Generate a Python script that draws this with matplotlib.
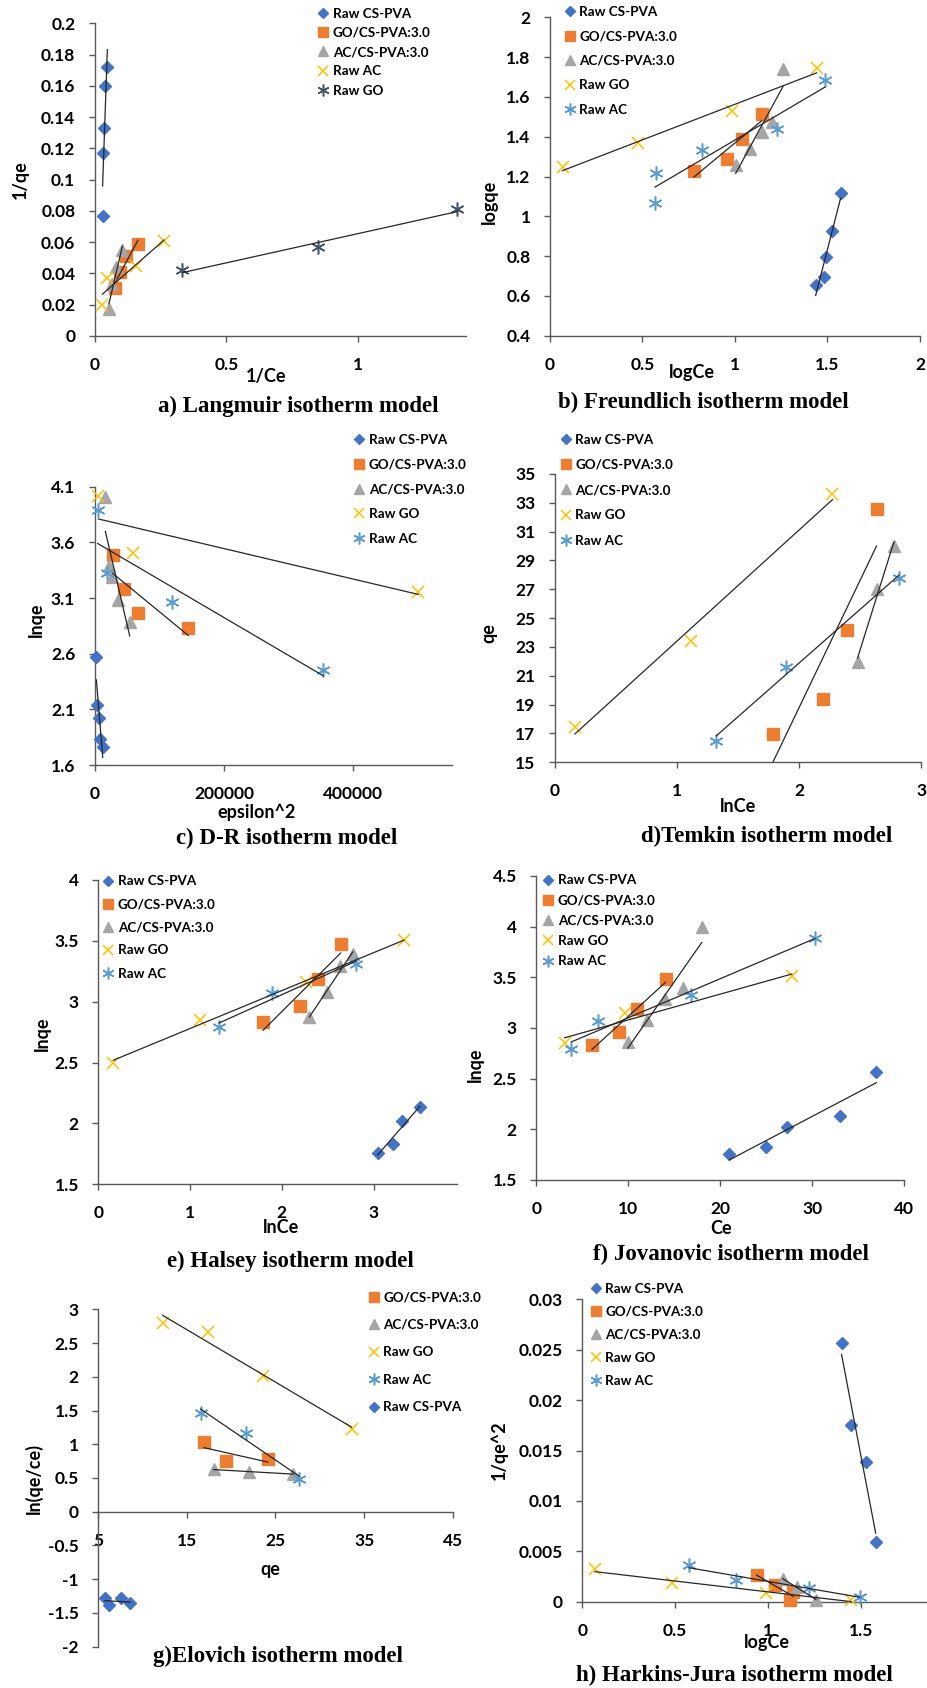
import numpy as np
import matplotlib.pyplot as plt
from matplotlib.ticker import FuncFormatter

plt.rcParams['font.family'] = ['Lato', 'DejaVu Sans']
plt.rcParams['font.weight'] = 'bold'

# ---------------- data ----------------
# a) Langmuir: 1/Ce vs 1/qe
lang_cs = ([0.048, 0.040, 0.037, 0.032, 0.030], [0.172, 0.160, 0.133, 0.117, 0.077])
lang_go_cs = ([0.164, 0.117, 0.096, 0.078], [0.059, 0.051, 0.041, 0.031])
lang_ac_cs = ([0.105, 0.082, 0.067, 0.054], [0.055, 0.044, 0.033, 0.017])
lang_raw_ac = ([0.263, 0.155, 0.048, 0.029], [0.061, 0.045, 0.037, 0.020])
lang_raw_go = ([0.333, 0.848, 1.376], [0.042, 0.057, 0.081])

# b) Freundlich: logCe vs logqe
fr_cs = ([1.571, 1.523, 1.494, 1.481, 1.436], [1.115, 0.928, 0.797, 0.695, 0.655])
fr_go_cs = ([1.144, 1.040, 0.955, 0.778], [1.512, 1.387, 1.286, 1.226])
fr_ac_cs = ([1.259, 1.202, 1.148, 1.081, 1.004], [1.738, 1.474, 1.423, 1.340, 1.256])
fr_raw_go = ([1.441, 0.986, 0.476, 0.068], [1.743, 1.529, 1.366, 1.246])
fr_raw_ac = ([1.486, 1.229, 0.823, 0.575, 0.568], [1.685, 1.440, 1.333, 1.219, 1.065])

# c) D-R: epsilon^2 vs lnqe
dr_cs = ([2600, 3600, 6700, 8800, 12400], [2.567, 2.139, 2.025, 1.830, 1.765])
dr_go_cs = ([27800, 45400, 66500, 144800], [3.483, 3.184, 2.965, 2.828])
dr_ac_cs = ([16500, 21700, 27300, 36600, 54100], [4.010, 3.387, 3.286, 3.082, 2.887])
dr_raw_go = ([5700, 58800, 500500], [4.016, 3.507, 3.157])
dr_raw_ac = ([4600, 18600, 119600, 353600], [3.890, 3.322, 3.067, 2.453])

# d) Temkin: lnCe vs qe
tk_cs = ([3.04, 3.22, 3.31, 3.50, 3.61], [5.8, 6.2, 7.5, 8.5, 13.0])
tk_go_cs = ([2.634, 2.394, 2.198, 1.786], [32.57, 24.18, 19.37, 16.97])
tk_ac_cs = ([2.776, 2.634, 2.478], [30.0, 27.0, 21.96])
tk_raw_go = ([2.272, 1.113, 0.166], [33.59, 23.44, 17.43])
tk_raw_ac = ([2.817, 1.890, 1.322], [27.76, 21.64, 16.48])

# e) Halsey: lnCe vs lnqe
hs_cs = ([3.505, 3.313, 3.215, 3.044], [2.137, 2.020, 1.831, 1.760])
hs_go_cs = ([2.641, 2.397, 2.198, 1.795], [3.475, 3.183, 2.961, 2.831])
hs_ac_cs = ([2.772, 2.638, 2.495, 2.300], [3.393, 3.290, 3.077, 2.876])
hs_raw_go = ([3.331, 2.265, 1.108, 0.163], [3.505, 3.160, 2.849, 2.499])
hs_raw_ac = ([2.808, 1.895, 1.315], [3.313, 3.073, 2.794])

# f) Jovanovic: Ce vs lnqe
jv_cs = ([37.0, 33.0, 27.3, 25.0, 21.0], [2.566, 2.135, 2.026, 1.829, 1.760])
jv_go_cs = ([14.06, 10.98, 9.02, 6.05], [3.484, 3.184, 2.964, 2.836])
jv_ac_cs = ([18.0, 15.98, 14.02, 12.07, 9.96], [4.0, 3.398, 3.289, 3.079, 2.865])
jv_raw_go = ([27.8, 9.67, 3.08], [3.513, 3.145, 2.849])
jv_raw_ac = ([30.3, 16.85, 6.74, 3.80], [3.891, 3.326, 3.072, 2.796])

# g) Elovich: qe vs ln(qe/ce)
el_go_cs = ([16.93, 19.37, 24.12], [1.029, 0.757, 0.777])
el_ac_cs = ([18.02, 22.05, 27.0], [0.628, 0.589, 0.560])
el_raw_go = ([12.26, 17.42, 23.55, 33.60], [2.80, 2.67, 2.01, 1.226])
el_raw_ac = ([16.55, 21.67, 27.69], [1.468, 1.162, 0.480])
el_cs = ([5.75, 6.24, 7.52, 8.57], [-1.284, -1.383, -1.284, -1.358])

# h) Harkins-Jura: logCe vs 1/qe^2
hj_cs = ([1.397, 1.446, 1.530, 1.581], [0.02563, 0.01753, 0.01383, 0.00589])
hj_go_cs = ([0.940, 1.038, 1.137, 1.119], [0.00265, 0.00165, 0.00099, 0.00017])
hj_ac_cs = ([1.080, 1.155, 1.259], [0.00225, 0.00149, 0.00020])
hj_raw_go = ([0.068, 0.481, 0.988, 1.446], [0.00321, 0.00182, 0.00089, 0.00017])
hj_raw_ac = ([0.575, 0.830, 1.221, 1.495], [0.00364, 0.00215, 0.00139, 0.00050])

CS, GOCS, ACCS = 'Raw CS-PVA', 'GO/CS-PVA:3.0', 'AC/CS-PVA:3.0'

# ---------------- styling ----------------
STYLE = {
    'diamond': dict(marker='D', color='#4472C4', ms=6.5, mew=1),
    'square': dict(marker='s', color='#ED7D31', ms=8.5, mew=1),
    'triangle': dict(marker='^', color='#A5A5A5', ms=8.5, mew=1),
    'cross': dict(marker='x', color='#FFC000', ms=8, mew=1.1),
    'star': dict(marker=(6, 2, 0), color='#5B9BD5', ms=10, mew=1.1),
    'star_dark': dict(marker=(6, 2, 0), color='#44546A', ms=10, mew=1.1),
}
AXIS_COL = '#595959'
LEG_FS = 9.7

W, H = 928, 1688
fig = plt.figure(figsize=(W / 100, H / 100), dpi=100)


def excel_fmt(v, pos):
    s = ('%.4f' % v).rstrip('0').rstrip('.')
    return '0' if s in ('-0', '') else s


def px_axes(x0, x1, ytop, ybot):
    return fig.add_axes([x0 / W, 1 - ybot / H, (x1 - x0) / W, (ybot - ytop) / H])


def draw_series(ax, data, style, label):
    x = np.asarray(data[0], float)
    y = np.asarray(data[1], float)
    xl, yl = ax.get_xlim(), ax.get_ylim()
    inside = (x >= xl[0]) & (x <= xl[1]) & (y >= yl[0]) & (y <= yl[1])
    st = STYLE[style]
    line, = ax.plot(x[inside], y[inside], ls='none', marker=st['marker'], ms=st['ms'],
                    color=st['color'], mec=st['color'], mew=st['mew'],
                    clip_on=False, zorder=3, label=label)
    k, b = np.polyfit(x, y, 1)
    xs = np.array([x.min(), x.max()])
    ax.plot(xs, k * xs + b, color='#262626', lw=0.9, zorder=4)
    return line


def panel(box, xlim, ylim, xticks, yticks, series, leg_xy, leg_step,
          xlabel, xlabel_xy, ylabel, ylabel_xy, title, title_xy, xaxis_at=None):
    ax = px_axes(*box)
    ax.set_xlim(xlim)
    ax.set_ylim(ylim)
    ax.set_xticks(xticks)
    ax.set_yticks(yticks)
    ax.xaxis.set_major_formatter(FuncFormatter(excel_fmt))
    ax.yaxis.set_major_formatter(FuncFormatter(excel_fmt))
    ax.patch.set_alpha(0)
    for s in ['top', 'right']:
        ax.spines[s].set_visible(False)
    for s in ['left', 'bottom']:
        ax.spines[s].set_color(AXIS_COL)
        ax.spines[s].set_linewidth(1)
    if xaxis_at is not None:
        ax.spines['bottom'].set_position(('data', xaxis_at))
    ax.tick_params(direction='out', length=4, width=1, color=AXIS_COL, labelsize=12.5)
    ax.tick_params(axis='x', pad=11)
    ax.tick_params(axis='y', pad=10)

    handles = [draw_series(ax, d, st, lab) for lab, st, d in series]

    fs_px = LEG_FS * 100 / 72
    text_h = 1.2 * fs_px
    ax.legend(handles=handles, loc='upper left',
              bbox_to_anchor=((leg_xy[0] - 0.4 * fs_px) / W, 1 - (leg_xy[1] - text_h / 2) / H),
              bbox_transform=fig.transFigure, frameon=False, numpoints=1,
              handlelength=0.8, handletextpad=0.3, borderaxespad=0, borderpad=0,
              labelspacing=(leg_step - text_h) / fs_px, markerscale=0.85,
              prop=dict(size=LEG_FS, weight='bold'))

    ax.set_xlabel(xlabel, fontsize=13, fontweight='bold', va='center', ha='center')
    ax.xaxis.set_label_coords(xlabel_xy[0] / W, 1 - xlabel_xy[1] / H, transform=fig.transFigure)
    ax.set_ylabel(ylabel, fontsize=13, fontweight='bold', va='center', ha='center')
    ax.yaxis.set_label_coords(ylabel_xy[0] / W, 1 - ylabel_xy[1] / H, transform=fig.transFigure)

    fig.text(title_xy[0] / W, 1 - title_xy[1] / H, title, family='Liberation Serif',
             weight='bold', size=16.5, ha='center', va='center')
    return ax


# a) Langmuir
panel((94.7, 466.1, 23.3, 336.0), (0, 1.409), (0, 0.2), [0, 0.5, 1], np.arange(0, 0.201, 0.02),
      [(CS, 'diamond', lang_cs), (GOCS, 'square', lang_go_cs), (ACCS, 'triangle', lang_ac_cs),
       ('Raw AC', 'cross', lang_raw_ac), ('Raw GO', 'star_dark', lang_raw_go)],
      (323.3, 15.7), 23.4, '1/Ce', (265.7, 376.7), '1/qe', (20, 180),
      'a) Langmuir isotherm model', (298.3, 406.7))

# b) Freundlich
panel((550.0, 920.0, 17.3, 335.7), (0, 2), (0.4, 2), [0, 0.5, 1, 1.5, 2], np.arange(0.4, 2.01, 0.2),
      [(CS, 'diamond', fr_cs), (GOCS, 'square', fr_go_cs), (ACCS, 'triangle', fr_ac_cs),
       ('Raw GO', 'cross', fr_raw_go), ('Raw AC', 'star', fr_raw_ac)],
      (570, 14), 28.6, 'logCe', (692.3, 372.7), 'logqe', (489, 201.7),
      'b) Freundlich isotherm model', (703, 402.7))

# c) D-R
panel((94.7, 451.7, 486.7, 765.0), (0, 552000), (1.6, 4.1), [0, 200000, 400000],
      np.arange(1.6, 4.11, 0.5),
      [(CS, 'diamond', dr_cs), (GOCS, 'square', dr_go_cs), (ACCS, 'triangle', dr_ac_cs),
       ('Raw GO', 'cross', dr_raw_go), ('Raw AC', 'star', dr_raw_ac)],
      (359.3, 441.7), 29.0, 'epsilon^2', (256.7, 812.7), 'lnqe', (36.7, 620),
      'c) D-R isotherm model', (286.3, 838.3))

# d) Temkin
panel((554.7, 921.3, 474.0, 762.3), (0, 3), (15, 35), [0, 1, 2, 3], np.arange(15, 35.1, 2),
      [(CS, 'diamond', tk_cs), (GOCS, 'square', tk_go_cs), (ACCS, 'triangle', tk_ac_cs),
       ('Raw GO', 'cross', tk_raw_go), ('Raw AC', 'star', tk_raw_ac)],
      (565.7, 441.7), 29.4, 'lnCe', (738, 806.7), 'qe', (489, 633.3),
      'd)Temkin isotherm model', (766.3, 836))

# e) Halsey
panel((98.3, 456.7, 880.0, 1184.3), (0, 3.905), (1.5, 4), [0, 1, 2, 3], np.arange(1.5, 4.01, 0.5),
      [(CS, 'diamond', hs_cs), (GOCS, 'square', hs_go_cs), (ACCS, 'triangle', hs_ac_cs),
       ('Raw GO', 'cross', hs_raw_go), ('Raw AC', 'star', hs_raw_ac)],
      (108.3, 883.3), 27.25, 'lnCe', (280.7, 1227.3), 'lnqe', (42.7, 1033.3),
      'e) Halsey isotherm model', (290.5, 1261.7))

# f) Jovanovic
panel((536.3, 904.0, 876.0, 1180.0), (0, 40), (1.5, 4.5), [0, 10, 20, 30, 40], np.arange(1.5, 4.51, 0.5),
      [(CS, 'diamond', jv_cs), (GOCS, 'square', jv_go_cs), (ACCS, 'triangle', jv_ac_cs),
       ('Raw GO', 'cross', jv_raw_go), ('Raw AC', 'star', jv_raw_ac)],
      (548.3, 882.5), 24.4, 'Ce', (720.7, 1228.3), 'lnqe', (475.7, 1065),
      'f) Jovanovic isotherm model', (730.7, 1254))

# g) Elovich
panel((98.3, 452.7, 1309.3, 1646.7), (5, 45), (-2, 3), [5, 15, 25, 35, 45], np.arange(-2, 3.01, 0.5),
      [(GOCS, 'square', el_go_cs), (ACCS, 'triangle', el_ac_cs), ('Raw GO', 'cross', el_raw_go),
       ('Raw AC', 'star', el_raw_ac), (CS, 'diamond', el_cs)],
      (374, 1299.3), 31.7, 'qe', (270.7, 1569.3), 'ln(qe/ce)', (34, 1478.3),
      'g)Elovich isotherm model', (278.3, 1656), xaxis_at=0)

# h) Harkins-Jura
panel((582.3, 928.0, 1299.3, 1601.7), (0, 1.863), (0, 0.03), [0, 0.5, 1, 1.5],
      np.arange(0, 0.0301, 0.005),
      [(CS, 'diamond', hj_cs), (GOCS, 'square', hj_go_cs), (ACCS, 'triangle', hj_ac_cs),
       ('Raw GO', 'cross', hj_raw_go), ('Raw AC', 'star', hj_raw_ac)],
      (595.7, 1290.7), 27.3, 'logCe', (767.3, 1642.7), '1/qe^2', (499, 1450),
      'h) Harkins-Jura isotherm model', (734.8, 1675))

fig.savefig('out.png', dpi=100, facecolor='white')
